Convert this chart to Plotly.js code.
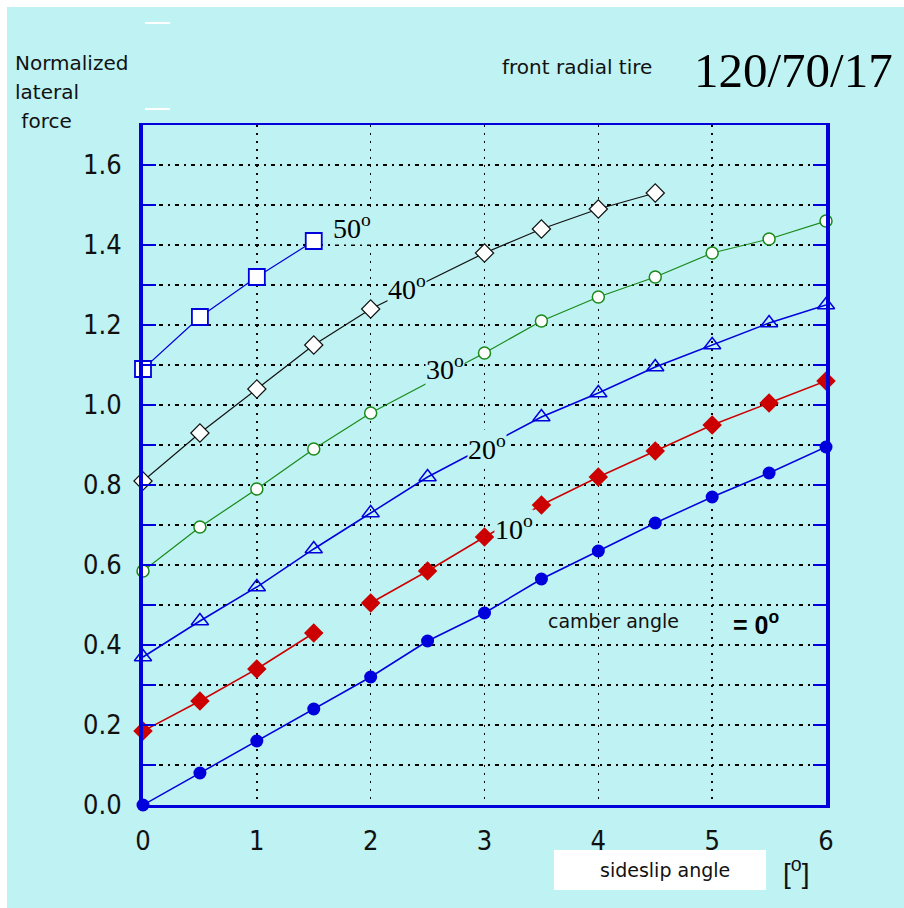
<!DOCTYPE html>
<html>
<head>
<meta charset="utf-8">
<script src="https://cdn.plot.ly/plotly-3.0.1.min.js"></script>
<style>html,body{margin:0;padding:0;background:#fff;}#chart{width:904px;height:908px;}</style>
</head>
<body>
<div id="chart"></div>
<script>
// sideslip angle [deg]
const slip = [0, 0.5, 1, 1.5, 2, 2.5, 3, 3.5, 4, 4.5, 5, 5.5, 6];

// normalized lateral force per camber angle
const cam0x  = [0, 0.5, 1, 1.5, 2, 2.5, 3, 3.5, 4, 4.5, 5, 5.5, 6];
const cam0y  = [0.0, 0.08, 0.16, 0.24, 0.32, 0.41, 0.48, 0.565, 0.635, 0.705, 0.77, 0.83, 0.895];
const cam10x = [0, 0.5, 1, 1.5, null, 2, 2.5, 3, 3.5, 4, 4.5, 5, 5.5, 6];
const cam10y = [0.185, 0.26, 0.34, 0.43, null, 0.505, 0.585, 0.67, 0.75, 0.82, 0.885, 0.95, 1.005, 1.06];
const cam20x = [0, 0.5, 1, 1.5, 2, 2.5, 3.5, 4, 4.5, 5, 5.5, 6];
const cam20y = [0.37, 0.46, 0.545, 0.64, 0.73, 0.82, 0.97, 1.03, 1.095, 1.15, 1.205, 1.25];
const cam30x = [0, 0.5, 1, 1.5, 2, 3, 3.5, 4, 4.5, 5, 5.5, 6];
const cam30y = [0.585, 0.695, 0.79, 0.89, 0.98, 1.13, 1.21, 1.27, 1.32, 1.38, 1.415, 1.46];
const cam40x = [0, 0.5, 1, 1.5, 2, 3, 3.5, 4, 4.5];
const cam40y = [0.81, 0.93, 1.04, 1.15, 1.24, 1.38, 1.44, 1.49, 1.53];
const cam50x = [0, 0.5, 1, 1.5];
const cam50y = [1.09, 1.22, 1.32, 1.41];

const xTicks = [0, 1, 2, 3, 4, 5, 6];
const xTickText = ['0', '1', '2', '3', '4', '5', '6'];
const yTicks = [0, 0.1, 0.2, 0.3, 0.4, 0.5, 0.6, 0.7, 0.8, 0.9, 1.0, 1.1, 1.2, 1.3, 1.4, 1.5, 1.6, 1.7];
const yTickText = ['0.0', '', '0.2', '', '0.4', '', '0.6', '', '0.8', '', '1.0', '', '1.2', '', '1.4', '', '1.6', ''];

const seriesLabels = ['50<sup>o</sup>', '40<sup>o</sup>', '30<sup>o</sup>', '20<sup>o</sup>', '10<sup>o</sup>'];
const yTitleLines = ['Normalized', 'lateral', ' force'];

const BLUE = '#0000dd', RED = '#cc0000', GREEN = '#1a8a1a', BG = '#bff2f2';

const traces = [
  {x: cam0x, y: cam0y, mode: 'lines+markers', line: {color: BLUE, width: 1.5},
   marker: {symbol: 'circle', size: 13, color: BLUE}},
  {x: cam10x, y: cam10y, mode: 'lines+markers', line: {color: RED, width: 1.5},
   marker: {symbol: 'diamond', size: 15, color: RED}},
  {x: cam20x, y: cam20y, mode: 'lines+markers', line: {color: BLUE, width: 1.5},
   marker: {symbol: 'triangle-up-open', size: 15, color: BLUE, line: {width: 1.5, color: BLUE}}},
  {x: cam30x, y: cam30y, mode: 'lines+markers', line: {color: GREEN, width: 1.2},
   marker: {symbol: 'circle', size: 12, color: '#ffffff', line: {width: 1.5, color: GREEN}}},
  {x: cam40x, y: cam40y, mode: 'lines+markers', line: {color: '#111111', width: 1.2},
   marker: {symbol: 'diamond', size: 14, color: '#ffffff', line: {width: 1.2, color: '#111111'}}},
  {x: cam50x, y: cam50y, mode: 'lines+markers', line: {color: BLUE, width: 1.2},
   marker: {symbol: 'square', size: 16, color: '#ffffff', line: {width: 1.8, color: BLUE}}}
];
traces.forEach(t => { t.cliponaxis = false; t.showlegend = false; t.hoverinfo = 'skip'; });

const serif = {family: 'Liberation Serif, Times New Roman, serif', size: 28, color: '#000'};
const narrow = 'Liberation Sans Narrow, DejaVu Sans Condensed, Liberation Sans, sans-serif';
const sansFam = 'DejaVu Sans, Verdana, sans-serif';

const labelPos = [[1.84, 1.447], [2.32, 1.295], [2.65, 1.095], [3.02, 0.895], [3.26, 0.695]];
const annotations = seriesLabels.map((t, i) => ({
  x: labelPos[i][0], y: labelPos[i][1], xref: 'x', yref: 'y', text: t, showarrow: false,
  xanchor: 'center', yanchor: 'middle', font: serif, bgcolor: BG, borderpad: 0
}));
const px = v => (v - 143) / 683;
const py = v => (805 - v) / 680;
yTitleLines.forEach((t, i) => annotations.push({
  x: px(13), y: py(63 + 29 * i), xref: 'paper', yref: 'paper', xanchor: 'left', yanchor: 'middle',
  text: t, showarrow: false, font: {family: sansFam, size: 20, color: '#111'}
}));
annotations.push(
  {x: 4.13, y: 0.46, xref: 'x', yref: 'y', xanchor: 'center', yanchor: 'middle', text: 'camber angle', showarrow: false,
   font: {family: sansFam, size: 19, color: '#111'}},
  {x: 5.385, y: 0.455, xref: 'x', yref: 'y', xanchor: 'center', yanchor: 'middle', text: '= 0<sup>o</sup>', showarrow: false,
   font: {family: 'Liberation Sans, Arial, sans-serif', size: 25, color: '#000', weight: 'bold'}},
  {x: px(577), y: py(67), xref: 'paper', yref: 'paper', xanchor: 'center', yanchor: 'middle', text: 'front radial tire', showarrow: false,
   font: {family: sansFam, size: 20, color: '#111'}},
  {x: px(793), y: py(70), xref: 'paper', yref: 'paper', xanchor: 'center', yanchor: 'middle', text: '120/70/17', showarrow: false,
   font: {family: serif.family, size: 49, color: '#000'}},
  {x: px(665), y: py(870), xref: 'paper', yref: 'paper', xanchor: 'center', yanchor: 'middle', text: 'sideslip angle',
   showarrow: false, font: {family: sansFam, size: 19, color: '#111'}},
  {x: px(796), y: py(871), xref: 'paper', yref: 'paper', xanchor: 'center', yanchor: 'middle', text: '[<sup>o</sup>]',
   showarrow: false, font: {family: 'Liberation Sans, Arial, sans-serif', size: 28, color: '#111'}}
);

const shapes = [
  {type: 'rect', xref: 'paper', yref: 'paper', x0: px(0), x1: px(904), y0: py(7), y1: py(0), fillcolor: '#fff', line: {width: 0}, layer: 'below'},
  {type: 'rect', xref: 'paper', yref: 'paper', x0: px(0), x1: px(7), y0: py(908), y1: py(0), fillcolor: '#fff', line: {width: 0}, layer: 'below'},
  {type: 'rect', xref: 'paper', yref: 'paper', x0: px(554), x1: px(766), y0: py(890), y1: py(850), fillcolor: '#fff', line: {width: 0}, layer: 'below'},
  {type: 'line', xref: 'paper', yref: 'paper', x0: px(145), x1: px(170), y0: py(23), y1: py(23), line: {color: '#fff', width: 2}},
  {type: 'line', xref: 'paper', yref: 'paper', x0: px(145), x1: px(170), y0: py(109), y1: py(109), line: {color: '#fff', width: 2}}
];

const layout = {
  width: 904, height: 908,
  margin: {l: 143, r: 78, t: 125, b: 103},
  paper_bgcolor: BG, plot_bgcolor: BG,
  showlegend: false,
  xaxis: {
    range: [0, 6], tickvals: xTicks, ticktext: xTickText,
    showline: true, mirror: true, linecolor: BLUE, linewidth: 2.5,
    ticks: '', showgrid: true, gridcolor: '#000', gridwidth: 1.5, griddash: '2px,6px',
    zeroline: false, ticklabelstandoff: 10,
    tickfont: {family: narrow, size: 27, color: '#111'}
  },
  yaxis: {
    range: [0, 1.7], tickvals: yTicks, ticktext: yTickText,
    showline: true, mirror: 'allticks', linecolor: BLUE, linewidth: 4,
    ticks: 'inside', ticklen: 13, tickwidth: 2, tickcolor: BLUE,
    showgrid: true, gridcolor: '#000', gridwidth: 1.5, griddash: '4px,5px,2px,5px',
    zeroline: false, ticklabelstandoff: 12,
    tickfont: {family: narrow, size: 27, color: '#111'}
  },
  annotations: annotations,
  shapes: shapes
};

Plotly.newPlot('chart', traces, layout, {displayModeBar: false, staticPlot: true});
</script>
</body>
</html>
